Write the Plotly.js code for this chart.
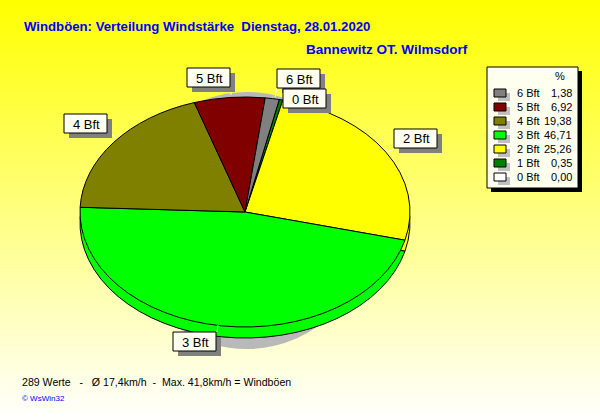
<!DOCTYPE html>
<html>
<head>
<meta charset="utf-8">
<script src="https://cdn.plot.ly/plotly-3.0.1.min.js"></script>
<style>
html,body{margin:0;padding:0;width:600px;height:420px;overflow:hidden;background:linear-gradient(to bottom,#ffff00 0%,#ffffff 100%);}
#chart{width:600px;height:420px;}
</style>
</head>
<body>
<div id="chart"></div>
<script>
// Data, in the drawing order of the slices (clockwise)
const categories = ['0 Bft','1 Bft','2 Bft','3 Bft','4 Bft','5 Bft','6 Bft'];
const shares     = [0.00, 0.35, 25.26, 46.71, 19.38, 6.92, 1.38];
const shareText  = ['0,00','0,35','25,26','46,71','19,38','6,92','1,38'];
const colours    = ['#ffffff','#008000','#ffff00','#00ff00','#808000','#800000','#808080'];

const titleText    = 'Windböen: Verteilung Windstärke\u00a0\u00a0Dienstag, 28.01.2020';
const subtitleText = 'Bannewitz OT. Wilmsdorf';
const footerText   = '289 Werte\u00a0\u00a0 - \u00a0\u00a0Ø 17,4km/h\u00a0 - \u00a0Max. 41,8km/h = Windböen';
const creditText   = '© WsWin32';

const px = x => x / 600;
const py = y => 1 - y / 420;

const RAW_CY = 210;
function pieTrace(cx, r, colourList, lineWidth){
  return {
    type:'pie', values:shares, labels:categories, sort:false, direction:'clockwise', rotation:12,
    textinfo:'none', hoverinfo:'skip', showlegend:false,
    marker:{colors:colourList, line:{color:'#000000', width:lineWidth}},
    domain:{x:[px(cx-r), px(cx+r)], y:[py(RAW_CY+r), py(RAW_CY-r)]}
  };
}
const traces = [
  pieTrace(247, 125, categories.map(()=>'#b9b9b9'), 0), // drop shadow
  pieTrace(245, 165, colours, 1),                       // rim
  pieTrace(245, 165, colours, 1)                        // top face
];
// vertical squash of each pie: [target centre y, y scale]
const squash = [[220.5, 128.5/125],[223, 115/165],[212, 115/165]];

const shapes = [], annotations = [];
function rect(x0,y0,x1,y1,fill,line){
  shapes.push({type:'rect',xref:'paper',yref:'paper',x0:px(x0),x1:px(x1),y0:py(y0),y1:py(y1),
    fillcolor:fill,line:{color:line||fill,width:line?1:0}});
}
function seg(x0,y0,x1,y1,c){
  shapes.push({type:'line',xref:'paper',yref:'paper',x0:px(x0),x1:px(x1),y0:py(y0),y1:py(y1),line:{color:c,width:1}});
}
function txt(t,x,y,anchor,size,colour,bold){
  annotations.push({text:bold?'<b>'+t+'</b>':t,xref:'paper',yref:'paper',x:px(x),y:py(y),
    xanchor:anchor,yanchor:'middle',showarrow:false,borderpad:0,
    font:{family:'Liberation Sans, Arial, sans-serif',size:size,color:colour}});
}

// slice call-outs
const callouts = [
  ['4 Bft',64,114,[110,133,116,138]],
  ['5 Bft',187,68,[231,87,231,95]],
  ['6 Bft',277,69,[277,88,275,97]],
  ['0 Bft',283,89,null],
  ['2 Bft',394,129,[394,149,387,152]],
  ['3 Bft',173,332,[217,332,218,325]]
];
callouts.forEach(([label,x,y,lead])=>{
  if(lead) seg(lead[0],lead[1],lead[2],lead[3],'#ffffff');
  rect(x+5,y+5,x+48,y+24,'#808080');
  rect(x,y,x+43,y+19,'#fffff0','#000000');
  txt(label,x+22,y+10,'center',13,'#000000');
});

// legend box
rect(491,71,582,192,'#000000');
rect(487,67,578,188,'#fffff0','#000000');
txt('%',560,76,'center',11,'#000000');
const legendOrder = [6,5,4,3,2,1,0];
legendOrder.forEach((k,i)=>{
  const y = 93 + i*14;
  rect(498,y,510,y+8,'#c0c0c0');
  rect(494,y-4,506,y+4,colours[k],'#000000');
  txt(categories[k],516,y,'left',11,'#000000');
  txt(shareText[k],573,y,'right',11,'#000000');
});

txt(titleText,23,26,'left',13.2,'#0000ff',true);
txt(subtitleText,305,49,'left',13.5,'#0000ff',true);
txt(footerText,21,382,'left',10.6,'#000000');
txt(creditText,21,398,'left',8,'#0000ff');

const layout = {
  width:600,height:420,margin:{l:0,r:0,t:0,b:0},
  paper_bgcolor:'rgba(0,0,0,0)',plot_bgcolor:'rgba(0,0,0,0)',
  showlegend:false,shapes:shapes,annotations:annotations
};

Plotly.newPlot('chart',traces,layout,{displayModeBar:false,staticPlot:true}).then(gd=>{
  gd.querySelectorAll('.pielayer .trace').forEach((g,i)=>{
    const [cy,s] = squash[i];
    g.setAttribute('transform','translate(0,'+(cy-s*RAW_CY)+') scale(1,'+s+')');
    g.querySelectorAll('path').forEach(p=>p.style.vectorEffect='non-scaling-stroke');
  });
});
</script>
</body>
</html>
